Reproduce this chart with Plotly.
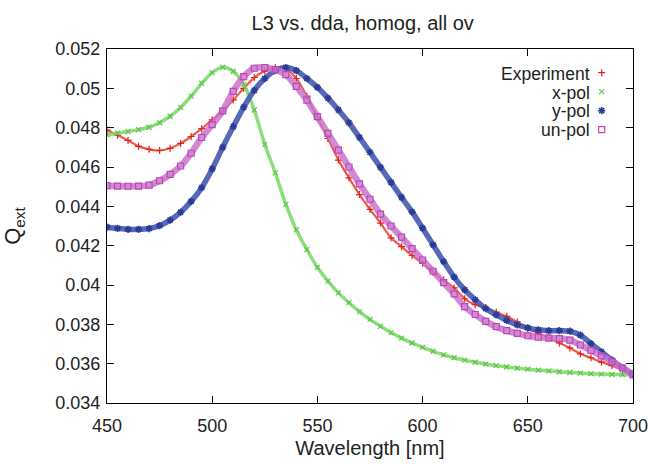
import plotly.graph_objects as go

# ---------------- data ----------------
wavelength = [450, 455, 460, 465, 470, 475, 480, 485, 490, 495,
              500, 505, 510, 515, 520, 525, 530, 535, 540, 545,
              550, 555, 560, 565, 570, 575, 580, 585, 590, 595,
              600, 605, 610, 615, 620, 625, 630, 635, 640, 645,
              650, 655, 660, 665, 670, 675, 680, 685, 690, 695, 700]

experiment = [0.04788, 0.04762, 0.04735, 0.04705, 0.04690, 0.04684, 0.04695, 0.04720, 0.04755, 0.04795,
              0.04840, 0.04885, 0.04941, 0.05000, 0.05055, 0.05088, 0.05105, 0.05100, 0.05050, 0.04960,
              0.04850, 0.04745, 0.04635, 0.04545, 0.04460, 0.04385, 0.04315, 0.04240, 0.04195, 0.04150,
              0.04110, 0.04065, 0.04025, 0.03985, 0.03930, 0.03900, 0.03885, 0.03862, 0.03840, 0.03812,
              0.03778, 0.03755, 0.03732, 0.03705, 0.03680, 0.03650, 0.03630, 0.03608, 0.03590, 0.03568, 0.03543]

x_pol = [0.04763, 0.04772, 0.04780, 0.04790, 0.04802, 0.04825, 0.04858, 0.04903, 0.04960, 0.05025,
         0.05080, 0.05107, 0.05087, 0.05020, 0.04890, 0.04715, 0.04570, 0.04410, 0.04280, 0.04180,
         0.04090, 0.04020, 0.03960, 0.03910, 0.03865, 0.03825, 0.03790, 0.03758, 0.03730, 0.03705,
         0.03683, 0.03663, 0.03645, 0.03630, 0.03618, 0.03607, 0.03598, 0.03590, 0.03583, 0.03577,
         0.03572, 0.03567, 0.03563, 0.03559, 0.03555, 0.03552, 0.03549, 0.03547, 0.03545, 0.03544, 0.03543]

y_pol = [0.04294, 0.04288, 0.04283, 0.04283, 0.04287, 0.04302, 0.04330, 0.04370, 0.04425, 0.04495,
         0.04590, 0.04700, 0.04805, 0.04905, 0.04990, 0.05050, 0.05090, 0.05106, 0.05090, 0.05050,
         0.05005, 0.04950, 0.04890, 0.04825, 0.04750, 0.04675, 0.04598, 0.04522, 0.04446, 0.04372,
         0.04289, 0.04204, 0.04119, 0.04040, 0.03975, 0.03925, 0.03880, 0.03848, 0.03820, 0.03797,
         0.03782, 0.03772, 0.03768, 0.03768, 0.03765, 0.03745, 0.03702, 0.03660, 0.03618, 0.03580, 0.03548]

un_pol = [0.04505, 0.04503, 0.04502, 0.04503, 0.04508, 0.04530, 0.04562, 0.04605, 0.04670, 0.04750,
          0.04815, 0.04885, 0.04985, 0.05060, 0.05102, 0.05106, 0.05095, 0.05070, 0.05010, 0.04940,
          0.04856, 0.04771, 0.04686, 0.04600, 0.04514, 0.04436, 0.04360, 0.04300, 0.04243, 0.04185,
          0.04127, 0.04070, 0.04012, 0.03955, 0.03890, 0.03850, 0.03815, 0.03788, 0.03768, 0.03754,
          0.03742, 0.03735, 0.03730, 0.03727, 0.03720, 0.03695, 0.03667, 0.03640, 0.03610, 0.03578, 0.03543]

series_names = ["Experiment", "x-pol", "y-pol", "un-pol"]
x_ticks = [450, 500, 550, 600, 650, 700]
y_ticks = [0.034, 0.036, 0.038, 0.040, 0.042, 0.044, 0.046, 0.048, 0.050, 0.052]
y_tick_labels = ["0.034", "0.036", "0.038", "0.04", "0.042", "0.044", "0.046", "0.048", "0.05", "0.052"]

# ---------------- styles ----------------
FONT = "Liberation Sans, Arial, Helvetica, sans-serif"
TXT = "#222222"
series_values = [experiment, x_pol, y_pol, un_pol]
mcolors = ["#e02418", "#5cc84a", "#2a3c98", "#b848b8"]
lcolors = ["rgba(235,60,45,0.85)", "rgba(120,215,100,0.85)", "rgba(70,90,175,0.9)", "rgba(205,115,205,0.85)"]
symbols = ["cross-thin-open", "x-thin-open", "asterisk-open", "square-open"]
msizes = [5, 5, 6, 6]
mlws = [1.2, 1.2, 1.6, 1.2]
lwidths = [2.2, 3.5, 5.5, 6.5]

fig = go.Figure()
for name, vals, mc, lc, s, ms, mlw, w in zip(series_names, series_values, mcolors, lcolors,
                                               symbols, msizes, mlws, lwidths):
    fig.add_trace(go.Scatter(
        x=wavelength, y=vals, mode="lines", showlegend=False, hoverinfo="skip",
        line=dict(color=lc, width=w, shape="spline", smoothing=0.8),
    ))
    fig.add_trace(go.Scatter(
        x=wavelength, y=vals, mode="markers", name="", showlegend=True,
        marker=dict(symbol=s, size=ms, color=mc, line=dict(color=mc, width=mlw)),
    ))

# Legend texts (gnuplot-style: text left of symbol)
L, R, T, B = 107, 633, 49, 403
W, H = R - L, B - T
leg_sym_y = [72.7, 91.5, 110.3, 129.1]
for name, py in zip(series_names, leg_sym_y):
    fig.add_annotation(
        x=(591.5 - L) / W, y=1 - (py + 1.0 - T) / H, xref="paper", yref="paper",
        text=name, showarrow=False, xanchor="right", yanchor="middle",
        font=dict(family=FONT, size=17.5, color=TXT),
    )

axis_common = dict(
    showline=True, linecolor="black", linewidth=1.2, mirror="ticks",
    ticks="inside", ticklen=7, tickwidth=1.2, tickcolor="black",
    showgrid=False, zeroline=False, automargin=False,
    tickfont=dict(family=FONT, size=18, color=TXT),
)

fig.update_layout(
    width=651, height=464,
    margin=dict(l=L, r=651 - R, t=T, b=464 - B, autoexpand=False),
    paper_bgcolor="white", plot_bgcolor="white",
    title=dict(text="L3 vs. dda, homog, all ov", x=362.7 / 651, xanchor="center",
               y=1 - 22.5 / 464, yanchor="middle", yref="container", automargin=False,
               font=dict(family=FONT, size=20, color=TXT)),
    xaxis=dict(range=[450, 700], tickvals=x_ticks, ticklabelstandoff=6,
               title=dict(text="Wavelength [nm]", standoff=6,
                          font=dict(family=FONT, size=20, color=TXT)),
               **axis_common),
    yaxis=dict(range=[0.034, 0.052], tickvals=y_ticks, ticktext=y_tick_labels,
               ticklabelstandoff=2,
               title=dict(text="Q<sub>ext</sub>", standoff=29,
                          font=dict(family=FONT, size=22, color=TXT)),
               **axis_common),
    showlegend=True,
    legend=dict(x=(581.7 - L) / W, y=1 - (58.2 - T) / H, xanchor="left", yanchor="top",
                bgcolor="rgba(0,0,0,0)", borderwidth=0, traceorder="normal",
                font=dict(family=FONT, size=12), itemsizing="trace"),
)

fig.write_html(
    "out.html",
    config={"displayModeBar": False, "staticPlot": False},
    post_script="document.body.style.margin='0';document.body.style.padding='0';",
)
